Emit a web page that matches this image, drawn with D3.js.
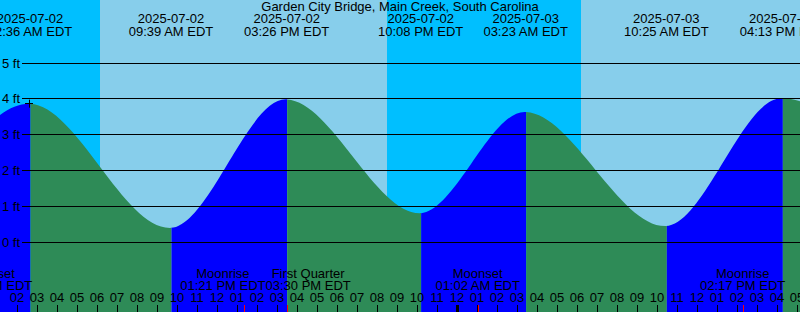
<!DOCTYPE html>
<html>
<head>
<meta charset="utf-8">
<script src="https://cdn.jsdelivr.net/npm/d3@7"></script>
<style>
  html, body { margin: 0; padding: 0; background: #fff; }
  svg { display: block; }
  text { font-family: 'Liberation Sans', Arial, sans-serif; font-size: 13px; fill: #000; }
</style>
</head>
<body>
<svg id="chart" width="800" height="312"></svg>
<script>
const title = 'Garden City Bridge, Main Creek, South Carolina'

// tide extremes (first and last are just off screen, they shape the curve ends)
const tideTimes = ['2025-07-01 21:20', '2025-07-02 02:36', '2025-07-02 09:39', '2025-07-02 15:26',
  '2025-07-02 22:08', '2025-07-03 03:23', '2025-07-03 10:25', '2025-07-03 16:13', '2025-07-03 22:50']
const tideHeights = [0.80, 3.85, 0.38, 3.97, 0.79, 3.62, 0.43, 4.00, 1.00]

// sunrise / sunset
const sunTimes = ['2025-07-02 06:09', '2025-07-02 20:30', '2025-07-03 06:12']
const sunEvents = ['rise', 'set', 'rise']

// moon events
const moonTimes = ['2025-07-02 00:39', '2025-07-02 13:21', '2025-07-02 15:30', '2025-07-03 01:02', '2025-07-03 14:17']
const moonNames = ['Moonset', 'Moonrise', 'First Quarter', 'Moonset', 'Moonrise']

const feetTicks = [0, 1, 2, 3, 4, 5]
const timeRange = ['2025-07-02 01:09', '2025-07-03 17:09']
const markTime = '2025-07-02 02:36'

const W = 800, H = 312
const parse = d3.timeParse('%Y-%m-%d %H:%M')
const fmtDate = d3.timeFormat('%Y-%m-%d')
const fmtTime = d3.timeFormat('%I:%M %p EDT')

const tides = tideTimes.map((t, i) => ({ t: parse(t), h: tideHeights[i] }))
const moons = moonTimes.map((t, i) => ({ t: parse(t), name: moonNames[i] }))

const x = d3.scaleTime().domain(timeRange.map(parse)).range([0, W])
const y = d3.scaleLinear().domain([0, 5]).range([241.5, 62.5])

const svg = d3.select('#chart')

// day / night background
let edges = [x.domain()[0], ...sunTimes.map(parse), x.domain()[1]]
let bands = d3.pairs(edges).map(([a, b], i) => ({ a, b, day: i === 0 ? sunEvents[0] === 'set' : sunEvents[i - 1] === 'rise' }))
svg.append('g').selectAll('rect')
  .data(bands).enter().append('rect')
  .attr('x', d => x(d.a))
  .attr('width', d => x(d.b) - x(d.a))
  .attr('y', 0).attr('height', H)
  .attr('fill', d => d.day ? '#87CEEB' : '#00BFFF')

// tide area, coloured by rising / falling segment
let area = d3.area()
  .x(d => x(d.t))
  .y0(H)
  .y1(d => y(d.h))
  .curve(d3.curveMonotoneX)

let defs = svg.append('defs')
let segs = d3.pairs(tides).map(([a, b], i) => ({ a, b, i, rising: b.h > a.h }))
defs.selectAll('clipPath')
  .data(segs).enter().append('clipPath')
  .attr('id', d => 'seg' + d.i)
  .append('rect')
  .attr('x', d => x(d.a.t) + 1.5)
  .attr('width', d => x(d.b.t) - x(d.a.t))
  .attr('y', 0).attr('height', H)

svg.append('g').selectAll('path')
  .data(segs).enter().append('path')
  .attr('d', area(tides))
  .attr('clip-path', d => `url(#seg${d.i})`)
  .attr('fill', d => d.rising ? '#0000FF' : '#2E8B57')

// height grid
let grid = svg.append('g')
grid.selectAll('line')
  .data(feetTicks).enter().append('line')
  .attr('x1', 22).attr('x2', W)
  .attr('y1', d => Math.round(y(d)) + 0.5)
  .attr('y2', d => Math.round(y(d)) + 0.5)
  .attr('stroke', '#000')
  .attr('shape-rendering', 'crispEdges')
grid.selectAll('text')
  .data(feetTicks).enter().append('text')
  .attr('x', 2)
  .attr('y', d => Math.round(y(d)) + 5)
  .text(d => `${d} ft`)

// mark at the first high
let mk = tides.find(d => +d.t === +parse(markTime))
svg.append('path')
  .attr('d', `M${x(mk.t) - 4},${Math.round(y(mk.h)) - 0.5}h8M${Math.round(x(mk.t)) + 0.5},${y(mk.h) - 4}v8`)
  .attr('stroke', '#000')
  .attr('fill', 'none')

// title and tide labels
svg.append('text').attr('x', W / 2).attr('y', 11)
  .attr('text-anchor', 'middle').text(title)

let shown = tides.filter(d => d.t >= x.domain()[0] - 3600e3 && d.t <= x.domain()[1])
let tl = svg.append('g').selectAll('g')
  .data(shown).enter().append('g')
  .attr('transform', d => `translate(${x(d.t) + 1},0)`)
tl.append('text').attr('y', 23).attr('text-anchor', 'middle').text(d => fmtDate(d.t))
tl.append('text').attr('y', 36).attr('text-anchor', 'middle').text(d => fmtTime(d.t))

// moon labels, pushed apart where they would collide
let ml = svg.append('g').selectAll('g')
  .data(moons).enter().append('g')
ml.append('text').attr('y', 278).attr('text-anchor', 'middle').text(d => d.name)
ml.append('text').attr('y', 290).attr('text-anchor', 'middle').text(d => fmtTime(d.t))
ml.each(function(d) {
  d.w = d3.max(d3.select(this).selectAll('text').nodes(), n => n.getComputedTextLength())
  d.cx = x(d.t)
})
moons.forEach((d, i) => {
  if (i === 0) return
  let p = moons[i - 1]
  if (p.cx + p.w / 2 > d.cx - d.w / 2) {
    let mid = (x(p.t) + x(d.t)) / 2
    p.cx = mid - p.w / 2
    d.cx = mid + d.w / 2
  }
})
ml.attr('transform', d => `translate(${d.cx},0)`)

// hour axis
let hours = x.ticks(d3.timeHour.every(1))
let ax = svg.append('g')
ax.selectAll('text')
  .data(hours).enter().append('text')
  .attr('x', d => x(d))
  .attr('y', 302)
  .attr('text-anchor', 'middle')
  .text(d3.timeFormat('%I'))
ax.selectAll('line')
  .data(hours).enter().append('line')
  .attr('x1', d => Math.round(x(d)) + 0.5)
  .attr('x2', d => Math.round(x(d)) + 0.5)
  .attr('y1', 305).attr('y2', H)
  .attr('stroke', '#000')
  .attr('stroke-width', d => d.getHours() === 0 ? 3 : 1)
  .attr('shape-rendering', 'crispEdges')
ax.selectAll('.moontick')
  .data(moons).enter().append('line').attr('class', 'moontick')
  .attr('x1', d => Math.round(x(d.t)) + 0.5)
  .attr('x2', d => Math.round(x(d.t)) + 0.5)
  .attr('y1', 305).attr('y2', H)
  .attr('stroke', '#FF0000')
  .attr('shape-rendering', 'crispEdges')
</script>
</body>
</html>
